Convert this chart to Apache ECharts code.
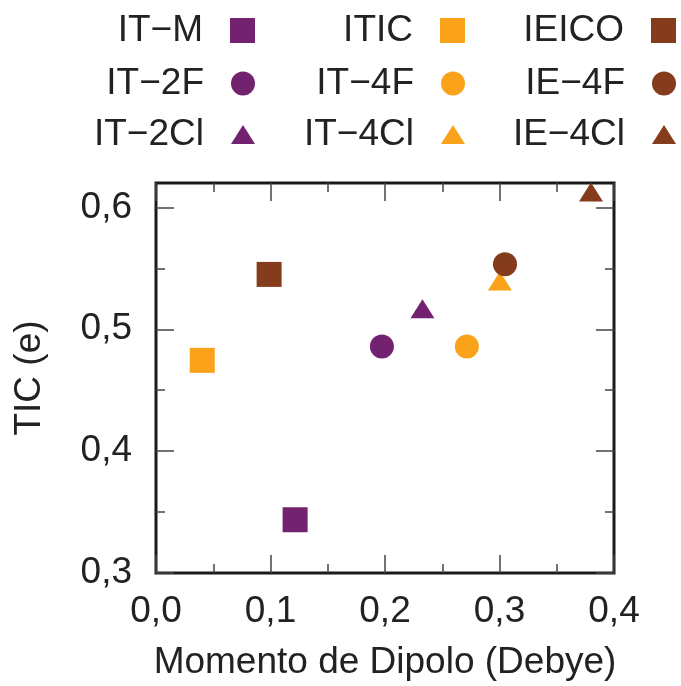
<!DOCTYPE html>
<html>
<head>
<meta charset="utf-8">
<script src="https://cdn.jsdelivr.net/npm/echarts@6/dist/echarts.min.js"></script>
<style>
  html, body { margin: 0; padding: 0; background: #fff; }
  #main { width: 681px; height: 686px; }
</style>
</head>
<body>
<div id="main"></div>
<script>
// data
const names = ['IT−M', 'IT−2F', 'IT−2Cl', 'ITIC', 'IT−4F', 'IT−4Cl', 'IEICO', 'IE−4F', 'IE−4Cl'];
const dipole = [0.1215, 0.1973, 0.2327, 0.0404, 0.2715, 0.3003, 0.0988, 0.3048, 0.3799];
const tic = [0.3437, 0.4858, 0.5168, 0.4745, 0.4858, 0.5396, 0.545, 0.5534, 0.6127];
const xTicks = [0, 0.1, 0.2, 0.3, 0.4];
const yTicks = [0.3, 0.4, 0.5, 0.6];
const yMinorTicks = [0.35, 0.45, 0.55];

const shapes = ['rect', 'circle', 'triangle'];
const colors = ['#72226f', '#fba21b', '#853c1c'];
const FONT = 'Liberation Sans, Arial, sans-serif';
const FS = 37;
const fmt = v => v.toFixed(1).replace('.', ',');

function symSize(shape) {
  if (shape === 'rect') return [25, 25];
  if (shape === 'circle') return [24, 24];
  return [24, 19];
}

var series = [], legends = [];
var colRight = [426, 216, 5];
var rowTop = [12, 65, 116];
names.forEach((name, i) => {
  var col = Math.floor(i / 3), row = i % 3;
  var shape = shapes[row], sz = symSize(shape);
  series.push({
    name: name,
    type: 'scatter',
    symbol: shape,
    symbolSize: sz,
    itemStyle: { color: colors[col], opacity: 1 },
    data: [[dipole[i], tic[i]]],
    z: 3
  });
  legends.push({
    data: [name],
    align: 'right',
    right: colRight[col],
    top: rowTop[row],
    padding: 0,
    itemWidth: sz[0],
    itemHeight: sz[1],
    selectedMode: false,
    textStyle: { fontFamily: FONT, fontSize: FS, color: '#222', lineHeight: 36, padding: [0, 22, 0, 0] }
  });
});

function xAx(pos, labels) {
  return {
    type: 'value', position: pos, min: 0, max: 0.4, interval: 0.1,
    axisLine: { show: false },
    splitLine: { show: false },
    axisTick: { show: true, inside: true, length: 18, lineStyle: { color: '#444', width: 1.5 } },
    minorTick: { show: true, splitNumber: 2, length: 9, lineStyle: { color: '#444', width: 1.5 } },
    axisLabel: { show: labels, margin: 20, formatter: fmt, fontFamily: FONT, fontSize: FS, color: '#222' },
    name: labels ? 'Momento de Dipolo (Debye)' : '',
    nameLocation: 'middle', nameGap: 71,
    nameTextStyle: { fontFamily: FONT, fontSize: FS, color: '#222' }
  };
}

function yAx(pos, ticks, len, labels) {
  return {
    type: 'value', position: pos, min: 0.3, max: 0.62,
    axisLine: { show: false },
    splitLine: { show: false },
    axisTick: { show: true, inside: true, length: len, customValues: ticks, lineStyle: { color: '#444', width: 1.5 } },
    axisLabel: { show: labels, margin: 24, customValues: yTicks, formatter: fmt, fontFamily: FONT, fontSize: FS, color: '#222' },
    name: labels ? 'TIC (e)' : '',
    nameLocation: 'middle', nameGap: 108,
    nameTextStyle: { fontFamily: FONT, fontSize: FS, color: '#222' }
  };
}

var chart = echarts.init(document.getElementById('main'));
chart.setOption({
  animation: false,
  backgroundColor: '#fff',
  grid: { left: 156, right: 67, top: 183, bottom: 113, show: true, borderColor: '#1a1a1a', borderWidth: 3, backgroundColor: 'transparent' },
  legend: legends,
  xAxis: [xAx('bottom', true), xAx('top', false)],
  yAxis: [
    yAx('left', yTicks, 18, true),
    yAx('left', yMinorTicks, 9, false),
    yAx('right', yTicks, 18, false),
    yAx('right', yMinorTicks, 9, false)
  ],
  series: series
});
</script>
</body>
</html>
